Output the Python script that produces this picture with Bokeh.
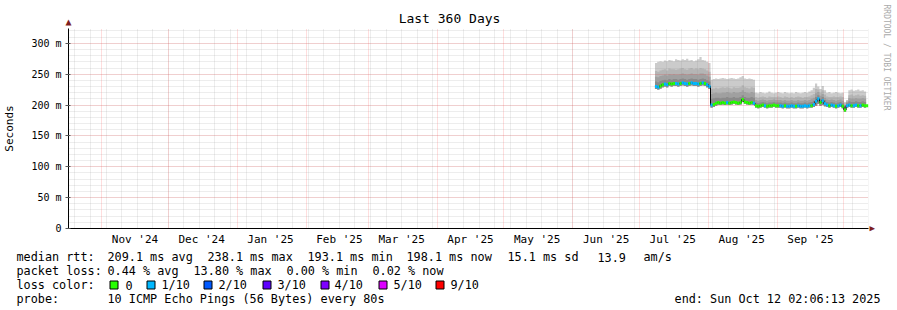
import math
from datetime import datetime, timedelta
import pandas as pd
from bokeh.plotting import figure
from bokeh.models import Range1d, FixedTicker, LinearAxis
from bokeh.core.properties import value
from bokeh.embed import file_html
from bokeh.resources import INLINE

# ---------------- data ----------------
end_time = datetime(2025, 10, 12, 2, 6, 13)
start_time = end_time - timedelta(days=360)
first_day = "2025-07-08"   # first day with data (one value per day)

# median RTT (ms): Jul 8 - Aug 1 | Aug 2 - Aug 21 | Aug 22 - Oct 11
median_ms = [230, 229, 231, 233, 234, 233, 235, 234, 235, 235, 234, 235, 236, 235, 234, 235, 236, 235, 235, 234, 235, 236, 235, 233, 230,
             200, 201, 203, 204, 203, 204, 203, 204, 203, 204, 205, 204, 203, 204, 209, 205, 204, 203, 204, 203,
             199, 198, 199, 200, 199, 198, 199, 199, 200, 199, 199,
             199, 198, 199, 198, 198, 199, 198, 198, 199, 198, 198, 199, 198, 199, 199, 201,
             206, 210, 204, 207, 202,
             200, 199, 200, 199, 198, 199, 200, 198,
             192, 199, 200, 199, 199, 200, 199, 199, 200, 199, 199]
# lost pings out of 10
loss_count = [1, 1, 0, 0, 1, 1, 0, 0, 0, 1, 1, 0, 1, 1, 1, 0, 1, 1, 1, 1, 0, 1, 0, 1, 1,
              1, 0, 0, 0, 0, 0, 0, 1, 0, 0, 0, 0, 0, 0, 0, 0, 0, 0, 0, 1,
              0, 0, 0, 0, 1, 0, 0, 0, 0, 0, 0,
              1, 1, 0, 1, 1, 1, 1, 0, 1, 1, 1, 1, 1, 1, 0, 1,
              1, 1, 0, 1, 1,
              1, 0, 1, 1, 0, 1, 1, 0,
              0, 1, 1, 0, 1, 1, 0, 1, 0, 0, 0]
# smoke: ping distribution edges (ms)
ping_min = [226, 225, 227, 229, 230, 229, 231, 230, 231, 231, 230, 231, 232, 231, 230, 231, 232, 231, 231, 230, 231, 232, 231, 229, 226,
            196, 197, 199, 200, 200, 201, 200, 201, 200, 201, 202, 201, 200, 201, 205, 202, 201, 200, 201, 200,
            196, 195, 196, 197, 196, 195, 196, 196, 197, 196, 196,
            196, 195, 196, 195, 195, 196, 195, 195, 196, 195, 195, 196, 195, 196, 196, 197,
            199, 202, 199, 200, 198,
            197, 196, 197, 196, 195, 196, 197, 195,
            189, 196, 197, 196, 196, 197, 196, 196, 197, 196, 196]
ping_q4 = [238, 237, 239, 240, 241, 240, 242, 241, 242, 242, 241, 242, 243, 242, 241, 242, 243, 242, 242, 241, 242, 243, 242, 240, 238,
           210, 211, 212, 212, 211, 212, 212, 213, 212, 212, 213, 212, 212, 213, 216, 213, 212, 212, 213, 212,
           204, 203, 204, 205, 204, 203, 204, 204, 205, 204, 204,
           204, 203, 204, 203, 203, 204, 203, 203, 204, 203, 203, 204, 203, 204, 205, 207,
           213, 216, 210, 213, 208,
           205, 204, 205, 204, 203, 204, 205, 203,
           197, 203, 206, 205, 205, 206, 205, 205, 206, 205, 205]
ping_q3 = [246, 245, 247, 248, 249, 248, 250, 249, 250, 249, 249, 250, 251, 250, 249, 250, 251, 250, 250, 249, 251, 251, 250, 248, 246,
           218, 219, 220, 219, 219, 220, 220, 221, 220, 219, 221, 220, 220, 221, 224, 221, 220, 219, 221, 220,
           208, 207, 208, 209, 208, 207, 208, 208, 209, 208, 208,
           208, 207, 208, 207, 207, 208, 207, 207, 208, 207, 207, 208, 207, 208, 210, 212,
           219, 221, 215, 218, 212,
           209, 208, 209, 208, 207, 208, 209, 207,
           200, 205, 211, 210, 210, 211, 210, 210, 211, 210, 210]
ping_q2 = [255, 254, 256, 257, 258, 256, 259, 258, 258, 257, 258, 259, 260, 258, 257, 259, 260, 258, 259, 258, 260, 259, 258, 256, 254,
           226, 227, 228, 227, 228, 229, 228, 229, 228, 227, 229, 228, 228, 229, 232, 229, 228, 227, 229, 228,
           213, 212, 213, 214, 213, 212, 214, 213, 213, 213, 214,
           213, 212, 214, 213, 212, 213, 212, 213, 214, 213, 212, 213, 213, 214, 216, 218,
           226, 225, 220, 224, 217,
           214, 213, 213, 214, 213, 213, 214, 213,
           203, 207, 216, 217, 215, 216, 217, 215, 216, 215, 216]
ping_max = [268, 270, 271, 270, 272, 271, 273, 272, 271, 274, 273, 272, 274, 273, 275, 272, 273, 271, 272, 274, 278, 273, 272, 270, 268,
            241, 242, 243, 242, 243, 244, 243, 242, 243, 244, 243, 242, 243, 245, 247, 243, 242, 243, 242, 241,
            220, 219, 221, 220, 219, 220, 222, 220, 219, 220, 221,
            220, 219, 221, 220, 219, 220, 219, 221, 220, 219, 220, 221, 220, 222, 224, 228,
            235, 230, 226, 231, 224,
            220, 221, 219, 220, 221, 220, 219, 220,
            205, 208, 224, 225, 223, 224, 225, 223, 224, 222, 223]

y_ticks = [0, 50, 100, 150, 200, 250, 300]
y_tick_labels = ["0", "50 m", "100 m", "150 m", "200 m", "250 m", "300 m"]
month_labels = ["Nov '24", "Dec '24", "Jan '25", "Feb '25", "Mar '25", "Apr '25",
                "May '25", "Jun '25", "Jul '25", "Aug '25", "Sep '25"]

loss_names = ["0", "1/10", "2/10", "3/10", "4/10", "5/10", "9/10"]
loss_palette = ["#26ff00", "#00b8ff", "#0059ff", "#5e00ff", "#7e00ff", "#dd00ff", "#ff0000"]

title_text = "Last 360 Days"
y_label = "Seconds"
credit_text = "RRDTOOL / TOBI OETIKER"
stat_rtt = ["median rtt:", "209.1 ms avg", "238.1 ms max", "193.1 ms min", "198.1 ms now", "15.1 ms sd", "13.9", "am/s"]
stat_loss = ["packet loss:", "0.44 % avg", "13.80 % max", "0.00 % min", "0.02 % now"]
probe_row = ["probe:", "10 ICMP Echo Pings (56 Bytes) every 80s"]
end_text = "end: Sun Oct 12 02:06:13 2025"

# ---------------- layout constants (canvas pixels) ----------------
FONT = "DejaVu Sans Mono"
W = 897
FL, FT, FW, FH = 67, 28, 800, 200      # main frame left/top/width/height
MAIN_BOTTOM = 18
MAIN_H = FT + FH + MAIN_BOTTOM         # 246
FOOT_H = 310 - MAIN_H

def ms(t):
    return pd.Timestamp(t).value / 1e6

days = pd.date_range(first_day, periods=len(median_ms), freq="D")
days_next = days + pd.Timedelta(days=1)

def color_for(n):
    return loss_palette[n] if n <= 5 else loss_palette[6]

month_starts = pd.date_range("2024-11-01", "2025-10-01", freq="MS")
week_lines = pd.date_range("2024-10-20", "2025-10-12", freq="7D")
label_pos = [m + pd.Timedelta(days=15) for m in month_starts[:len(month_labels)]]

# ---------------- main chart ----------------
p = figure(frame_width=FW, frame_height=FH, title=None,
           x_axis_type="datetime",
           x_range=Range1d(start_time, end_time), y_range=Range1d(0, 324),
           min_border_left=FL, min_border_right=W - FL - FW, min_border_top=FT, min_border_bottom=MAIN_BOTTOM,
           output_backend="svg", toolbar_location=None,
           background_fill_color="white", border_fill_color="white")
p.outline_line_color = None
p.extra_x_ranges = {"fx": Range1d(0, FW)}
p.extra_y_ranges = {"fy": Range1d(0, FH)}

# smoke
shades = ["#cbcbcb", "#b5b5b5", "#a0a0a0", "#8a8a8a"]
for top, col in zip([ping_max, ping_q2, ping_q3, ping_q4], shades):
    r = p.varea_step(x=days, y1=ping_min, y2=top, step_mode="after", fill_color=col)
    r.level = "image"

# median line, coloured by packet loss
p.step(x=days, y=median_ms, mode="after", line_color="black", line_width=1)
p.segment(x0=days, x1=days_next, y0=median_ms, y1=median_ms,
          line_color=[color_for(n) for n in loss_count], line_width=3)

# grids
p.xgrid.ticker = FixedTicker(ticks=[ms(t) for t in month_starts], minor_ticks=[ms(t) for t in week_lines])
p.ygrid.ticker = FixedTicker(ticks=y_ticks, minor_ticks=list(range(0, 330, 10)))
for g in (p.xgrid, p.ygrid):
    g.grid_line_color = "#ff4040"
    g.grid_line_alpha = 0.35
    g.grid_line_dash = "1 1"
    g.minor_grid_line_color = "#909090"
    g.minor_grid_line_alpha = 0.32
    g.minor_grid_line_dash = "1 1"

# axes
p.xaxis.ticker = FixedTicker(ticks=[ms(t) for t in label_pos])
p.xaxis.major_label_overrides = {ms(t): lab for t, lab in zip(label_pos, month_labels)}
p.xaxis.major_tick_in = 0
p.xaxis.major_tick_out = 0
p.xaxis.minor_tick_in = 0
p.xaxis.minor_tick_out = 0
p.xaxis.major_label_standoff = 4
p.yaxis.ticker = FixedTicker(ticks=y_ticks)
p.yaxis.major_label_overrides = {t: lab for t, lab in zip(y_ticks, y_tick_labels)}
p.yaxis.major_tick_in = 2
p.yaxis.major_tick_out = 3
p.yaxis.minor_tick_in = 0
p.yaxis.minor_tick_out = 0
p.yaxis.major_label_standoff = 4
p.yaxis.axis_label = y_label
p.yaxis.axis_label_text_font = FONT
p.yaxis.axis_label_text_font_size = "11px"
p.yaxis.axis_label_text_font_style = "normal"
p.yaxis.axis_label_text_color = "black"
p.yaxis.axis_label_standoff = 12
for ax, fs in ((p.xaxis, "11px"), (p.yaxis, "10px")):
    ax.axis_line_color = "black"
    ax.major_tick_line_color = "#555555"
    ax.major_label_text_font = FONT
    ax.major_label_text_font_size = fs
    ax.major_label_text_color = "black"

def text_axis(loc, rng, ticks, labels, size, color, standoff, orientation="horizontal"):
    kw = {"x_range_name": rng} if loc in ("above", "below") else {"y_range_name": rng}
    ax = LinearAxis(ticker=FixedTicker(ticks=ticks), major_label_overrides=dict(zip(ticks, labels)),
                    axis_line_color=None, major_tick_line_color=None, minor_tick_line_color=None,
                    major_label_text_font=FONT, major_label_text_font_size=size,
                    major_label_text_color=color, major_label_standoff=standoff,
                    major_label_orientation=orientation, **kw)
    p.add_layout(ax, loc)

arrow_col = "#7f1f1f"
# arrow heads at the axis ends
text_axis("above", "fx", [0.01], ["\u25b2"], "10px", arrow_col, -4)
text_axis("right", "fy", [0.01], ["\u25b6"], "9px", arrow_col, -5)
# title centred on the canvas, credit text on the right edge
text_axis("above", "fx", [448 - FL], [title_text], "13px", "black", -19)
text_axis("right", "fy", [FT + FH - 57], [credit_text], "8px", "#aaaaaa", -2, "parallel")

# ---------------- footer (legend / statistics) ----------------
f = figure(frame_width=W, frame_height=FOOT_H, title=None,
           x_range=Range1d(0, W), y_range=Range1d(310, MAIN_H),
           x_axis_location=None, y_axis_location=None,
           min_border=0, output_backend="svg", toolbar_location=None,
           background_fill_color="white", border_fill_color="white")
f.outline_line_color = None
f.xgrid.visible = False
f.ygrid.visible = False

row1, row2, row3, row4 = 254.5, 268, 282.5, 296.5
tx, ty, tt = [], [], []
for X, s in zip([16, 107, 207, 307, 406, 507, 597, 643], stat_rtt):
    tx.append(X); ty.append(row1); tt.append(s)
for X, s in zip([16, 107, 193, 286, 372], stat_loss):
    tx.append(X); ty.append(row2); tt.append(s)
tx.append(16); ty.append(row3); tt.append("loss color:")
for X, s in zip([125, 161, 218, 277, 334, 393, 450], loss_names):
    tx.append(X); ty.append(row3); tt.append(s)
for X, s in zip([16, 107], probe_row):
    tx.append(X); ty.append(row4); tt.append(s)
f.text(x=tx, y=ty, text=tt, text_font=value(FONT), text_font_size=value("11.8px"),
       text_baseline="middle", text_align="left", text_color="black")
f.text(x=[880], y=[row4], text=[end_text], text_font=value(FONT), text_font_size=value("11.8px"),
       text_baseline="middle", text_align="right", text_color="black")

sq_left = [109, 146, 203, 262, 320, 378, 435]
f.quad(left=[v + 0.5 for v in sq_left], right=[v + 8.5 for v in sq_left],
       top=row3 - 4, bottom=row3 + 4, fill_color=loss_palette, line_color="black", line_width=1)

open("out.html", "w").write(file_html([p, f], INLINE))
